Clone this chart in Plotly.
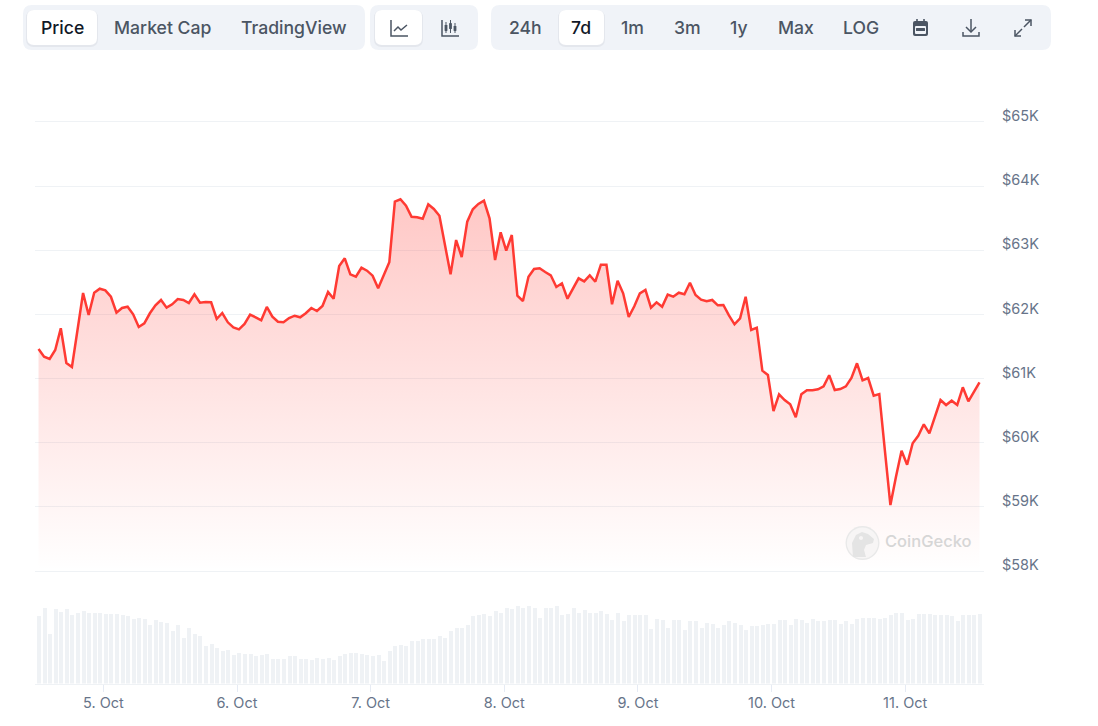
import pandas as pd
import plotly.graph_objects as go

W, H = 1098, 726

start_time = "2024-10-04 12:21"
price = [
    61461, 61341, 61305, 61445, 61784, 61243, 61180, 61757, 62334, 61991, 62339, 62401, 62376, 62276, 62027,
    62100, 62120, 62002, 61804, 61862, 62018, 62142, 62225, 62105, 62158, 62240, 62225, 62178, 62314, 62183,
    62194, 62189, 61929, 62022, 61877, 61799, 61768, 61851, 61996, 61955, 61908, 62116, 61965, 61887,
    61877, 61944, 61980, 61955, 62018, 62100, 62053, 62131, 62350, 62245, 62755, 62875, 62625, 62588, 62728,
    62682, 62604, 62407, 62615, 62813, 63757, 63795, 63695, 63523, 63514, 63492, 63717, 63644, 63539, 63082,
    62625, 63160, 62895, 63446, 63639, 63722, 63773, 63498, 62848, 63280, 62994, 63238, 62292,
    62209, 62588, 62708, 62719, 62661, 62610, 62428, 62485, 62245, 62401, 62563, 62516, 62610, 62510, 62775,
    62775, 62158, 62526, 62329, 61960, 62127, 62329, 62381, 62105, 62189, 62120, 62308, 62276, 62339, 62314,
    62495, 62303, 62230, 62205, 62225, 62142, 62147, 61986, 61846, 61940, 62276, 61757, 61793,
    61123, 61056, 60494, 60755, 60666, 60599, 60396, 60755, 60817, 60817, 60833, 60879, 61051, 60822, 60837,
    60879, 61009, 61238, 60973, 61009, 60733, 60759, 59886, 59029, 59470, 59875, 59657, 59991, 60109, 60287,
    60147, 60406, 60666, 60588, 60655, 60588, 60864, 60646, 60795, 60942,
]
volume = [
    20.2, 22.8, 14.8, 22.3, 21.4, 22.3, 20.5, 21.3, 21.7, 21.3, 21.3, 21.3, 20.8, 20.8, 20.8, 20.5, 20.2, 19.4,
    19.8, 19.4, 17.5, 19.0, 18.6, 18.3, 15.7, 17.5, 13.8, 16.8, 14.8, 14.2, 11.2, 11.8, 10.8, 9.8, 10.0, 8.5,
    9.2, 8.8, 8.8, 8.2, 8.5, 8.8, 7.3, 7.3, 7.3, 8.2, 8.2, 7.3, 7.3, 7.0, 7.8, 7.3, 7.8, 7.0, 8.2, 8.8, 9.2,
    9.2, 8.8, 8.5, 8.2, 8.5,
    6.7, 9.7, 11.2, 11.5, 11.2, 12.7, 12.7, 13.4, 13.4, 13.4, 14.2, 13.8, 15.7, 16.8, 16.8, 17.5, 20.2, 20.5,
    20.8, 20.2, 21.7, 21.3, 22.8, 22.4, 23.2, 22.8, 23.2, 22.8, 19.8, 22.8, 22.8, 23.2, 20.5, 20.9, 22.8, 21.3,
    22.0, 21.3, 21.3, 21.7, 20.9, 19.0, 21.3, 18.7, 20.5, 20.5, 20.5, 20.5, 16.4, 19.3, 19.0, 16.8, 19.0, 19.0,
    16.0,
    18.7, 18.7, 16.8, 18.3, 17.8, 16.8, 17.5, 18.7, 18.3, 17.5, 16.0, 17.2, 17.2, 17.5, 17.8, 17.8, 19.0, 19.0,
    17.5, 19.3, 19.0, 18.3, 19.3, 18.7, 18.7, 19.0, 19.0, 17.8, 18.7, 17.8, 19.3, 19.8, 19.8, 19.8, 19.3, 19.8,
    20.5, 21.3, 21.3, 19.0, 19.3, 20.8, 20.8, 20.8, 20.5, 20.5, 20.5, 20.2, 18.7, 20.5, 20.5, 20.5, 20.8,
]
y_ticks = [58000, 59000, 60000, 61000, 62000, 63000, 64000, 65000]
y_labels = ["$58K", "$59K", "$60K", "$61K", "$62K", "$63K", "$64K", "$65K"]
day_ticks = ["2024-10-05", "2024-10-06", "2024-10-07", "2024-10-08", "2024-10-09", "2024-10-10", "2024-10-11"]
day_labels = ["5. Oct", "6. Oct", "7. Oct", "8. Oct", "9. Oct", "10. Oct", "11. Oct"]
left_buttons = [("Price", 62), ("Market Cap", 162), ("TradingView", 294)]
right_buttons = [("24h", 525), ("7d", 581), ("1m", 632), ("3m", 687), ("1y", 739), ("Max", 796), ("LOG", 861)]

times = pd.date_range(start_time, periods=len(price), freq="h")

RED = "#ff3a33"
GRID = "#eff2f5"
BAR = "#eff2f5"
SLATE = "#4b5563"
DARK = "#111827"
AXIS_TEXT = "#677489"
PANEL = "#f0f3f8"
FONT = "Inter"

X0, X1 = 35, 984


def fx(x):
    return x / W


def fy(y):
    return 1 - y / H


def poly(pts, close=False):
    s = "M" + " L".join(f"{fx(x):.5f},{fy(y):.5f}" for x, y in pts)
    return s + (" Z" if close else "")


def rrect(x0, y0, x1, y1, r):
    def p(x, y):
        return f"{fx(x):.5f},{fy(y):.5f}"
    return (
        f"M{p(x0 + r, y0)} L{p(x1 - r, y0)} Q{p(x1, y0)} {p(x1, y0 + r)} "
        f"L{p(x1, y1 - r)} Q{p(x1, y1)} {p(x1 - r, y1)} L{p(x0 + r, y1)} "
        f"Q{p(x0, y1)} {p(x0, y1 - r)} L{p(x0, y0 + r)} Q{p(x0, y0)} {p(x0 + r, y0)} Z"
    )


def circle(cx, cy, r):
    k = r * 0.5523
    def p(x, y):
        return f"{fx(x):.5f},{fy(y):.5f}"
    return (
        f"M{p(cx - r, cy)} C{p(cx - r, cy - k)} {p(cx - k, cy - r)} {p(cx, cy - r)} "
        f"C{p(cx + k, cy - r)} {p(cx + r, cy - k)} {p(cx + r, cy)} "
        f"C{p(cx + r, cy + k)} {p(cx + k, cy + r)} {p(cx, cy + r)} "
        f"C{p(cx - k, cy + r)} {p(cx - r, cy + k)} {p(cx - r, cy)} Z"
    )


def filled(path, color):
    return dict(type="path", xref="paper", yref="paper", path=path, fillcolor=color, line=dict(width=0))


def stroked(path, color=SLATE, width=1.5):
    return dict(type="path", xref="paper", yref="paper", path=path, line=dict(color=color, width=width))


shapes = []
# toolbar panels
for a, b in [(23, 365), (370, 478), (491, 1051)]:
    shapes.append(filled(rrect(a, 5, b, 50, 9), PANEL))
# selected buttons with soft shadow
for a, b in [(27, 97), (375, 422), (559, 604)]:
    shapes.append(filled(rrect(a - 1, 10, b + 1, 47, 8), "rgba(15,23,42,0.05)"))
    shapes.append(filled(rrect(a, 10, b, 45, 7), "#ffffff"))

# line-chart icon
shapes.append(stroked(poly([(391, 20), (391, 36), (408, 36)])))
shapes.append(stroked(poly([(394, 31), (398, 27), (401, 30), (407, 25)])))
# candlestick icon
shapes.append(stroked(poly([(442, 20), (442, 36), (459, 36)])))
for cx, top, bot, a, b in [(446, 22, 33, 25, 31), (450.5, 20, 33, 23, 29), (455, 23, 33, 26, 31)]:
    shapes.append(stroked(poly([(cx, top), (cx, bot)]), width=1))
    shapes.append(filled(rrect(cx - 1.4, a, cx + 1.4, b, 0.4), SLATE))
# calendar icon
shapes.append(filled(rrect(913, 21, 928, 36, 2), SLATE))
shapes.append(filled(rrect(915, 26, 926, 34, 1), PANEL))
shapes.append(filled(rrect(916, 28, 925, 31, 0.5), SLATE))
shapes.append(stroked(poly([(917, 19), (917, 22)]), width=1.6))
shapes.append(stroked(poly([(924, 19), (924, 22)]), width=1.6))
# download icon
shapes.append(stroked(poly([(971, 19), (971, 31)])))
shapes.append(stroked(poly([(966, 27), (971, 32), (976, 27)])))
shapes.append(stroked(poly([(963, 32), (963, 36), (979, 36), (979, 32)])))
# expand icon
shapes.append(stroked(poly([(1015, 36), (1022, 29)])))
shapes.append(stroked(poly([(1024, 27), (1031, 20)])))
shapes.append(stroked(poly([(1025, 20), (1031, 20), (1031, 26)])))
shapes.append(stroked(poly([(1015, 30), (1015, 36), (1021, 36)])))
# watermark logo
shapes.append(filled(circle(862.5, 543, 17), "#e9e9e9"))
shapes.append(filled(circle(862.5, 543, 15.6), "#f7f5f5"))
shapes.append(filled(
    poly([(853, 557), (852, 543), (856, 535), (862, 532), (868, 534), (874, 539), (873, 543),
          (866, 545), (864, 550), (866, 557)], close=True), "#e4e4e4"))
shapes.append(filled(circle(861, 538, 2), "#f7f5f5"))

annotations = []
for label, cx in left_buttons + right_buttons:
    active = label in ("Price", "7d")
    annotations.append(dict(
        text=label, x=fx(cx), y=fy(28), xref="paper", yref="paper", xanchor="center", yanchor="middle",
        showarrow=False, font=dict(family=FONT, size=17.6, color=DARK if active else SLATE, weight=500),
    ))
annotations.append(dict(
    text="CoinGecko", x=fx(928), y=fy(541), xref="paper", yref="paper", xanchor="center", yanchor="middle",
    showarrow=False, font=dict(family=FONT, size=16.5, color="#d6d6d6", weight=500),
))

fig = go.Figure()
fig.add_trace(go.Bar(
    x=times, y=volume, yaxis="y2", marker=dict(color=BAR, line=dict(width=0)),
    width=2592000, offset=-1000000, hoverinfo="skip", showlegend=False,
))
fig.add_trace(go.Scatter(
    x=times, y=price, mode="lines", line=dict(color=RED, width=2.5, shape="linear"),
    fill="tozeroy",
    fillgradient=dict(
        type="vertical", start=63800, stop=58000,
        colorscale=[[0, "rgba(255,58,51,0.28)"], [1, "rgba(255,58,51,0)"]],
    ),
    showlegend=False,
))

fig.update_layout(
    width=W, height=H, autosize=False, margin=dict(l=0, r=0, t=0, b=0),
    paper_bgcolor="#ffffff", plot_bgcolor="#ffffff", font=dict(family=FONT),
    showlegend=False, bargap=0, shapes=shapes, annotations=annotations,
    xaxis=dict(
        type="date", domain=[fx(X0), fx(X1)], anchor="y2", automargin=False,
        range=["2024-10-04 11:43:00", "2024-10-11 14:09:30"],
        tickmode="array", tickvals=day_ticks, ticktext=day_labels,
        ticks="outside", ticklen=7, tickwidth=1, tickcolor="#e6ebf4", ticklabelstandoff=-1,
        showgrid=False, zeroline=False, showline=True, linecolor=GRID, linewidth=1,
        tickfont=dict(family=FONT, size=14.5, color=AXIS_TEXT),
    ),
    yaxis=dict(
        domain=[fy(573), fy(120)], range=[57969, 65031], side="right", anchor="x", automargin=False,
        tickmode="array", tickvals=y_ticks, ticktext=y_labels,
        showgrid=True, gridcolor=GRID, gridwidth=1, zeroline=False, showline=False,
        ticks="", ticklabelstandoff=17, ticklabelshift=-6,
        tickfont=dict(family=FONT, size=14.5, color=AXIS_TEXT),
    ),
    yaxis2=dict(
        domain=[fy(683.5), fy(604)], range=[0, 23.85], anchor="x", automargin=False,
        showgrid=False, zeroline=False, showline=False, showticklabels=False, ticks="",
    ),
)

fig.write_html("out.html", config={"displayModeBar": False},
               post_script="document.body.style.margin='0';document.documentElement.style.overflow='hidden';")
